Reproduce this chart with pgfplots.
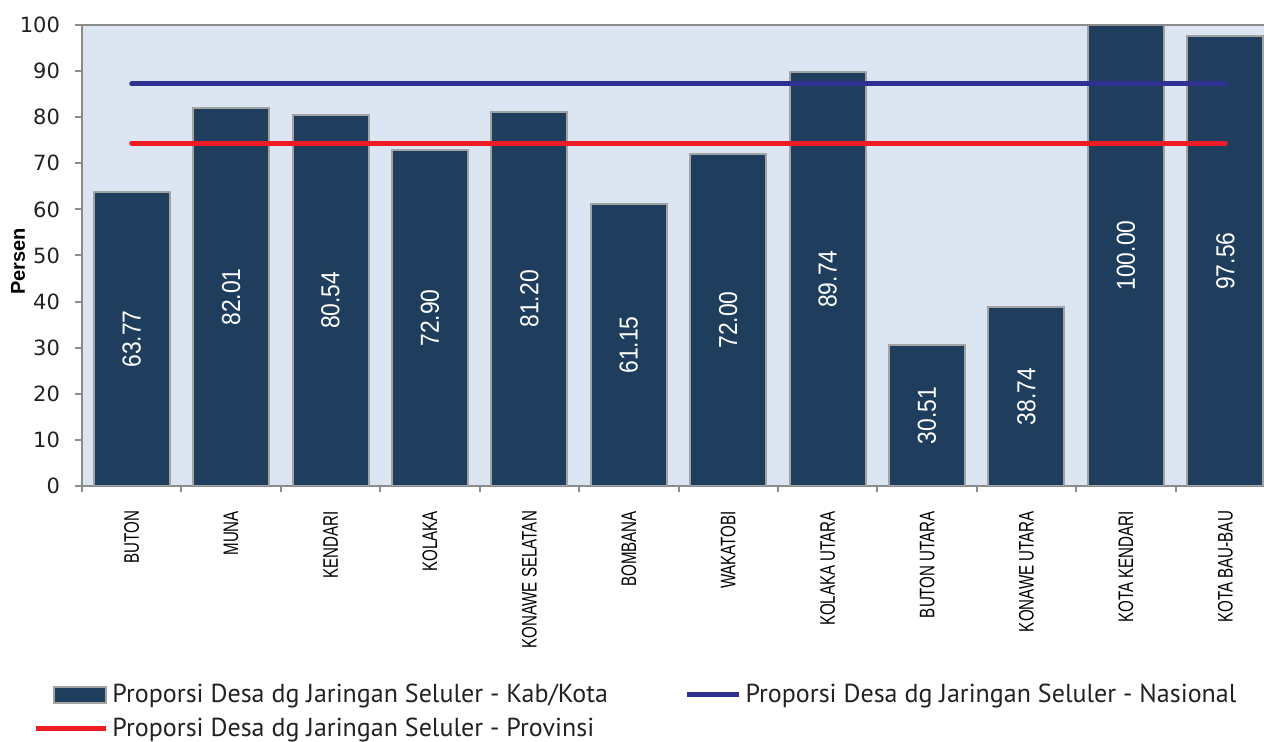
\documentclass[border=0pt]{standalone}
\usepackage{fontspec}
\setmainfont{Liberation Sans}
\newfontfamily\legfont{PT Sans}
\newfontfamily\narrowfont[FakeStretch=0.72]{Liberation Sans}
\newfontfamily\barfont[FakeStretch=0.88]{Liberation Sans}
\newfontfamily\tickfont{DejaVu Sans}
\usepackage{pgfplots}
\pgfplotsset{compat=1.18}

\definecolor{barblue}{HTML}{1F3E5D}
\definecolor{bgblue}{HTML}{DCE6F2}
\definecolor{natblue}{HTML}{2E3192}
\definecolor{provred}{HTML}{ED1C24}
\definecolor{axgray}{HTML}{8C8C8C}
\definecolor{txt}{HTML}{222222}

\begin{document}
\begin{tikzpicture}
\begin{axis}[
    name=ax,
    scale only axis,
    width=596.5pt, height=230.5pt,
    xmin=-0.5, xmax=11.5,
    ymin=0, ymax=100,
    /pgf/number format/assume math mode=true,
    axis lines*=left,
    axis line style={axgray, line width=1pt},
    axis background/.style={fill=bgblue},
    tick align=outside,
    tick style={axgray, line width=1pt},
    major tick length=3.5pt,
    minor tick length=3pt,
    xtick={0,...,11},
    major x tick style={draw=none},
    minor xtick={-0.5,0.5,...,11.5},
    xticklabels={BUTON,MUNA,KENDARI,KOLAKA,KONAWE SELATAN,BOMBANA,WAKATOBI,KOLAKA UTARA,BUTON UTARA,KONAWE UTARA,KOTA KENDARI,KOTA BAU-BAU},
    xticklabel style={rotate=90, anchor=east, font=\narrowfont\fontsize{10.5}{12}\selectfont, text=black, xshift=-5.5pt},
    ytick={0,10,...,100},
    yticklabel style={font=\tickfont\fontsize{10.5}{12}\selectfont, text=txt, xshift=-4pt},
    ylabel={\bfseries Persen},
    every axis y label/.style={at={(rel axis cs:0,0.5)}, xshift=-32pt, yshift=-3pt, rotate=90, anchor=center, font=\fontsize{10}{12}\selectfont},
    legend columns=2,
    legend style={at={(rel axis cs:-0.041,-0.42)}, anchor=north west, draw=none, fill=none,
        font=\legfont\fontsize{13}{15}\selectfont, text=txt,
        /tikz/every even column/.append style={column sep=28.5pt},
        row sep=2pt, inner sep=0pt},
    legend cell align=left,
]
\addplot[ybar, bar width=0.765, fill=barblue, draw=axgray!80, line width=1pt,
    visualization depends on={rawy \as \rawy},
    nodes near coords={\pgfmathprintnumber[fixed,fixed zerofill,precision=2]{\pgfplotspointmeta}},
    every node near coord/.append style={anchor=center, yshift={-\rawy*1.1525pt}, rotate=90,
        text=white, font=\barfont\fontsize{13}{15}\selectfont},
    legend image code/.code={\path[draw=none, fill=none] (-9pt,0pt) -- (26pt,0pt);
        \draw[fill=barblue, draw=axgray!80, line width=1pt] (0pt,-4pt) rectangle (26pt,4pt);}]
coordinates {
    (0,63.77) (1,82.01) (2,80.54) (3,72.90) (4,81.20) (5,61.15)
    (6,72.00) (7,89.74) (8,30.51) (9,38.74) (10,100.00) (11,97.56)
};
\addlegendentry{Proporsi Desa dg Jaringan Seluler - Kab/Kota}

\addplot[natblue, line width=2.5pt, line cap=round,
    legend image code/.code={\path[draw=none] (-9pt,0pt) -- (26pt,0pt);
        \draw[line cap=butt] (0pt,0pt) -- (26pt,0pt);}]
coordinates {
    (0,87.2) (1,87.2) (2,87.2) (3,87.2) (4,87.2) (5,87.2)
    (6,87.2) (7,87.2) (8,87.2) (9,87.2) (10,87.2) (11,87.2)
};
\addlegendentry{Proporsi Desa dg Jaringan Seluler - Nasional}

\addplot[provred, line width=2.5pt, line cap=round,
    legend image code/.code={\draw[line cap=butt] (-9pt,0pt) -- (26pt,0pt);}]
coordinates {
    (0,74.4) (1,74.4) (2,74.4) (3,74.4) (4,74.4) (5,74.4)
    (6,74.4) (7,74.4) (8,74.4) (9,74.4) (10,74.4) (11,74.4)
};
\addlegendentry{Proporsi Desa dg Jaringan Seluler - Provinsi}
\end{axis}
\draw[axgray, line width=1pt] (ax.north west) -- (ax.north east);
\pgfresetboundingbox
\path[use as bounding box] ([xshift=-41pt, yshift=-128pt]ax.south west) rectangle ([xshift=591pt, yshift=12.5pt]ax.north west);
\end{tikzpicture}
\end{document}
